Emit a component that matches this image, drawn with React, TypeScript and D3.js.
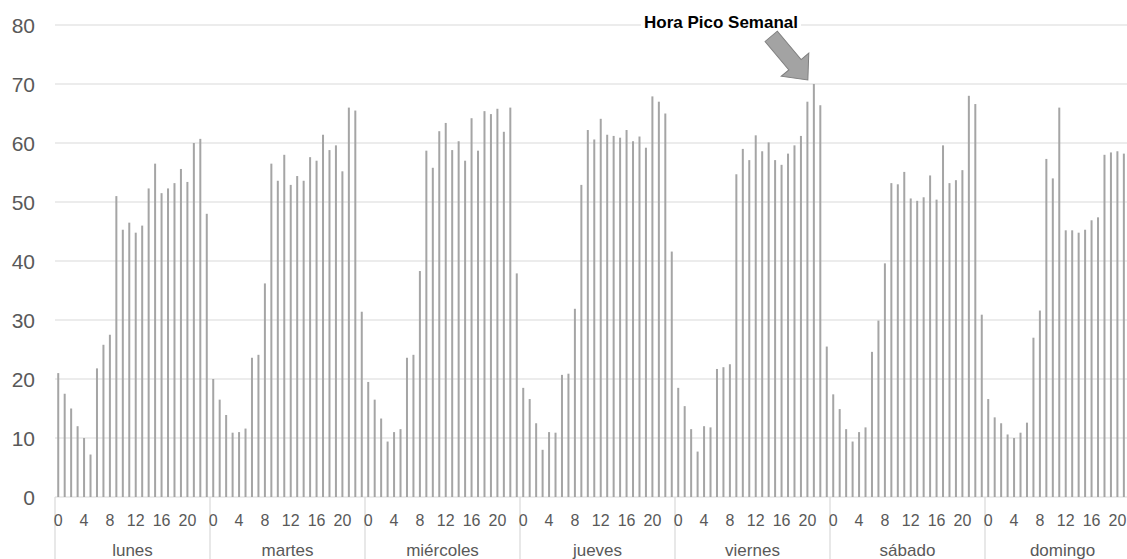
import * as d3 from "d3";

const days = ["lunes", "martes", "miércoles", "jueves", "viernes", "sábado", "domingo"];
const hourTicks = [0, 4, 8, 12, 16, 20];
const yTicks = [0, 10, 20, 30, 40, 50, 60, 70, 80];

// hourly values per day (h0..h23)
const lunes = [21, 17.5, 15, 12, 10, 7.2, 21.8, 25.8, 27.5, 51, 45.3, 46.5, 44.8, 46, 52.3, 56.5, 51.5, 52.3, 53.2, 55.6, 53.4, 60, 60.7, 48];
const martes = [20, 16.5, 13.9, 10.9, 11, 11.6, 23.6, 24.1, 36.2, 56.5, 53.6, 58, 52.9, 54.4, 53.6, 57.6, 57, 61.4, 58.8, 59.6, 55.2, 66, 65.5, 31.4];
const miercoles = [19.5, 16.5, 13.3, 9.4, 11, 11.5, 23.6, 24.1, 38.3, 58.7, 55.8, 62, 63.4, 58.8, 60.3, 57, 64.2, 58.7, 65.4, 64.9, 65.8, 61.9, 66, 37.9];
const jueves = [18.5, 16.6, 12.5, 8, 11, 10.9, 20.7, 20.9, 31.9, 52.9, 62.2, 60.6, 64.1, 61.4, 61.2, 60.9, 62.2, 60.3, 61.1, 59.2, 67.9, 67, 65, 41.6];
const viernes = [18.5, 15.4, 11.5, 7.7, 12, 11.8, 21.7, 22, 22.5, 54.7, 59, 57.1, 61.3, 58.6, 60.1, 57.1, 56.3, 58.2, 59.6, 61.2, 67, 70, 66.4, 25.5];
const sabado = [17.4, 14.9, 11.5, 9.4, 11, 11.8, 24.6, 29.9, 39.6, 53.2, 53, 55.1, 50.6, 50.2, 50.8, 54.5, 50.4, 59.6, 53.2, 53.7, 55.4, 68, 66.6, 30.9];
// the last two hours of domingo fall outside the picture
const domingo = [16.6, 13.5, 12.5, 10.6, 10, 10.9, 12.6, 27, 31.6, 57.3, 54, 66, 45.2, 45.2, 44.8, 45.3, 46.9, 47.4, 58, 58.4, 58.6, 58.2];

const series = [lunes, martes, miercoles, jueves, viernes, sabado, domingo];

const width = 1127;
const height = 559;
const left = 55;
const dayWidth = 155;

export default function App() {
  const hours = d3.range(24);
  const keys = days.flatMap((d) => hours.map((h) => `${d}-${h}`));

  const x = d3.scaleBand<string>().domain(keys).range([left, left + dayWidth * days.length]);
  const xDay = d3.scaleBand<string>().domain(days).range([left, left + dayWidth * days.length]);
  const y = d3.scaleLinear().domain([0, 80]).range([497, 25]);

  const bars = series.flatMap((vals, i) =>
    vals.map((v, h) => ({ key: `${days[i]}-${h}`, value: v }))
  );
  const peak = bars.reduce((a, b) => (b.value > a.value ? b : a));
  const cx = (k: string) => (x(k) ?? 0) + x.bandwidth() / 2;

  const tipX = cx(peak.key) - 6;
  const tipY = y(peak.value) - 4;
  const arrow = "M0,0 L-20,-18 L-20,-8 L-57,-8 L-57,8 L-20,8 L-20,18 Z";

  const font = "'Liberation Sans', Arial, sans-serif";

  return (
    <svg
      width={width}
      height={height}
      style={{ position: "absolute", left: 0, top: 0, background: "#fff" }}
      fontFamily={font}
    >
      {yTicks.map((t) => (
        <g key={t}>
          <line x1={left} x2={width} y1={y(t)} y2={y(t)} stroke="#d9d9d9" strokeWidth={1.2} />
          <text x={35} y={y(t)} textAnchor="end" dominantBaseline="central" fontSize={21} fill="#595959">
            {t}
          </text>
        </g>
      ))}

      {bars.map((b) => (
        <rect
          key={b.key}
          x={cx(b.key) - 1}
          y={y(b.value)}
          width={2}
          height={y(0) - y(b.value)}
          fill="#a5a5a5"
        />
      ))}

      {days.map((d) => (
        <g key={d}>
          <line x1={xDay(d)} x2={xDay(d)} y1={y(0)} y2={height} stroke="#d9d9d9" strokeWidth={1.2} />
          {hourTicks.map((h) => (
            <text
              key={h}
              x={cx(`${d}-${h}`)}
              y={520}
              textAnchor="middle"
              dominantBaseline="central"
              fontSize={16}
              fill="#595959"
            >
              {h}
            </text>
          ))}
          <text
            x={(xDay(d) ?? 0) + xDay.bandwidth() / 2}
            y={550}
            textAnchor="middle"
            dominantBaseline="central"
            fontSize={17}
            fill="#595959"
          >
            {d}
          </text>
        </g>
      ))}

      <rect x={641} y={12} width={160} height={20} fill="#fff" />
      <text x={721} y={28} textAnchor="middle" fontSize={17} fontWeight="bold" fill="#000">
        Hora Pico Semanal
      </text>
      <path
        d={arrow}
        transform={`translate(${tipX},${tipY}) rotate(50)`}
        fill="#a3a3a3"
        stroke="#808080"
        strokeWidth={1}
      />
    </svg>
  );
}
